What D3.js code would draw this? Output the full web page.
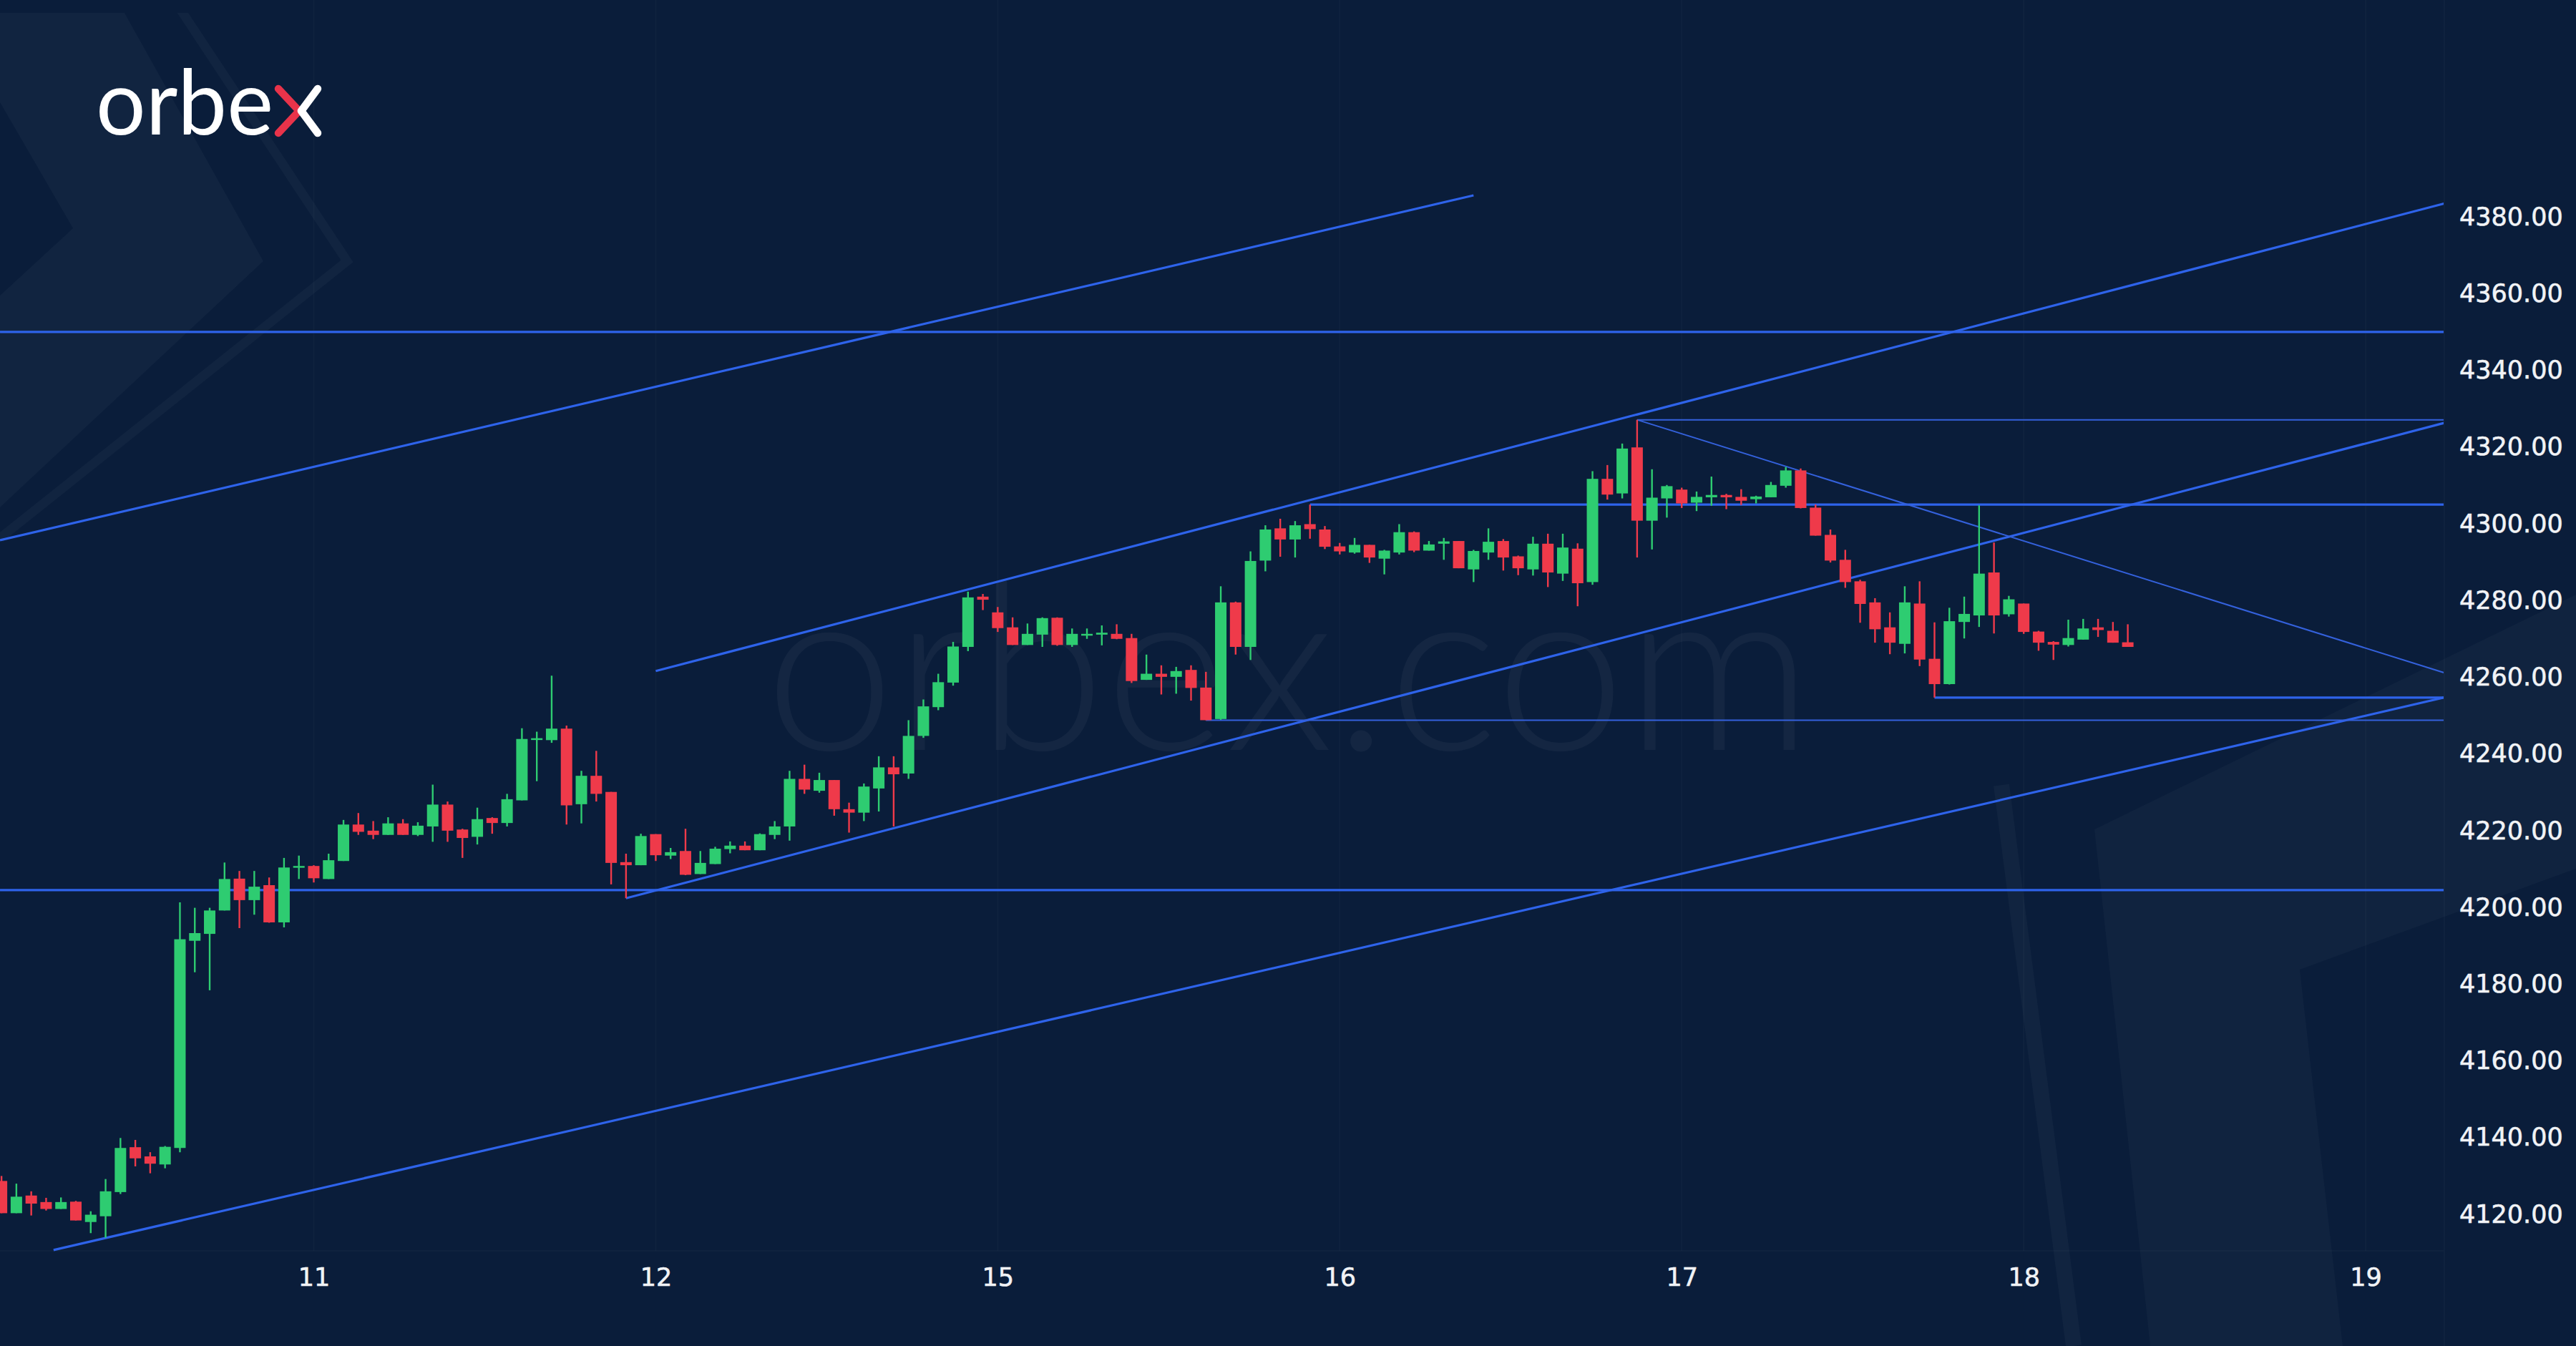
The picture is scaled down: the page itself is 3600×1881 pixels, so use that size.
<!DOCTYPE html>
<html><head><meta charset="utf-8">
<script src="https://cdn.jsdelivr.net/npm/d3@7"></script>
<style>html,body{margin:0;padding:0;background:#0a1d3a;overflow:hidden}</style>
</head><body><svg id="c" width="3600" height="1881"></svg>
<script>
// ---- data (hourly candles, index 0..143) ----
const opens = [4128.7,4120.3,4124.9,4123.2,4121.4,4123.3,4118.0,4119.5,4125.8,4137.5,4135.1,4133.0,4137.3,4191.3,4193.1,4199.2,4207.5,4201.9,4205.8,4196.1,
4210.4,4210.8,4207.4,4212.1,4221.6,4220.0,4218.9,4221.9,4218.9,4221.1,4226.8,4220.3,4218.4,4223.3,4222.0,4227.9,4243.9,4243.6,4246.6,4226.9,
4234.3,4230.1,4211.8,4211.0,4219.1,4213.5,4214.7,4208.7,4211.3,4215.2,4216.1,4214.9,4218.9,4221.1,4233.5,4230.4,4233.2,4225.6,4224.7,4231.0,
4236.5,4234.9,4244.7,4252.2,4258.6,4267.9,4281.0,4276.9,4273.0,4268.4,4271.1,4275.5,4268.4,4271.0,4271.1,4271.3,4270.2,4259.3,4260.9,4260.1,
4261.9,4257.3,4249.1,4279.5,4267.9,4290.4,4298.8,4295.9,4299.9,4298.5,4294.1,4292.5,4294.5,4290.9,4292.5,4297.8,4293.0,4294.8,4295.5,4288.1,
4292.5,4295.5,4291.5,4288.1,4294.8,4287.0,4293.5,4284.8,4311.7,4307.9,4319.9,4300.8,4306.6,4308.9,4305.5,4306.9,4307.5,4307.0,4306.4,4306.9,
4309.9,4313.9,4304.2,4297.1,4290.6,4285.0,4279.5,4273.0,4268.7,4279.2,4264.8,4258.2,4274.4,4276.1,4287.3,4276.4,4279.2,4271.9,4269.2,4268.4,
4269.8,4273.0,4272.1,4269.1];
const highs = [4130.0,4128.0,4126.0,4124.3,4124.4,4123.5,4120.8,4129.2,4139.9,4139.4,4136.2,4137.8,4201.3,4199.9,4199.9,4211.7,4209.5,4209.5,4207.8,4212.9,
4213.5,4211.0,4214.0,4222.8,4224.6,4222.5,4223.5,4223.0,4222.2,4232.0,4227.6,4220.5,4226.0,4223.5,4229.6,4246.7,4245.8,4260.4,4247.4,4235.6,
4240.8,4230.1,4214.0,4219.2,4219.1,4215.5,4220.5,4214.7,4215.8,4217.2,4217.2,4219.3,4222.5,4235.6,4237.2,4235.1,4233.2,4227.3,4232.3,4239.4,
4239.4,4248.8,4254.2,4260.9,4269.2,4282.3,4281.7,4278.3,4275.6,4274.0,4275.6,4275.6,4272.7,4272.7,4273.5,4273.8,4271.3,4265.9,4263.1,4262.7,
4263.1,4261.4,4283.7,4279.7,4292.8,4299.6,4301.3,4300.7,4305.0,4299.4,4295.0,4296.3,4294.5,4293.2,4299.9,4298.0,4295.5,4296.3,4295.5,4293.2,
4298.8,4296.0,4291.7,4296.6,4297.4,4297.4,4294.9,4313.7,4315.3,4320.9,4327.1,4314.2,4310.1,4309.4,4308.4,4312.3,4307.8,4309.0,4307.3,4310.9,
4314.8,4314.4,4305.0,4298.5,4293.2,4285.4,4280.6,4276.9,4283.7,4285.0,4274.3,4278.1,4281.0,4304.8,4295.1,4281.2,4279.2,4272.1,4269.4,4275.0,
4275.2,4275.2,4274.4,4273.8];
const lows = [4120.3,4120.3,4119.7,4121.0,4121.4,4118.4,4115.1,4113.9,4125.3,4132.5,4130.7,4132.0,4136.2,4183.1,4178.4,4199.2,4194.6,4198.1,4196.0,4194.8,
4207.4,4206.5,4207.4,4212.1,4218.9,4217.8,4218.9,4218.9,4218.6,4217.1,4217.1,4212.9,4216.4,4219.2,4221.1,4227.9,4232.9,4242.9,4221.6,4221.9,
4227.6,4206.0,4202.4,4211.0,4212.1,4212.6,4208.4,4208.7,4211.3,4214.1,4214.9,4214.9,4217.8,4217.4,4229.6,4229.9,4223.9,4219.5,4222.5,4225.0,
4221.1,4233.5,4244.2,4251.4,4257.8,4266.8,4277.5,4271.8,4268.4,4268.4,4267.9,4268.2,4267.9,4270.0,4268.3,4269.9,4258.5,4259.3,4255.5,4255.7,
4253.9,4248.8,4248.9,4265.9,4264.5,4287.6,4291.4,4291.2,4296.1,4293.4,4292.0,4292.2,4289.8,4286.8,4292.0,4292.6,4293.0,4290.6,4288.4,4284.8,
4290.6,4287.8,4286.6,4286.5,4283.5,4285.1,4278.5,4284.1,4306.3,4306.6,4291.2,4293.3,4301.6,4304.1,4303.3,4304.7,4303.8,4304.9,4305.3,4306.9,
4309.4,4304.0,4296.9,4289.9,4283.3,4274.2,4269.0,4266.0,4266.2,4262.9,4254.7,4258.1,4270.1,4273.1,4271.4,4275.8,4271.3,4266.9,4264.5,4268.0,
4269.8,4270.5,4269.0,4267.9];
const closes = [4120.3,4124.6,4122.8,4121.4,4123.2,4118.4,4119.9,4126.0,4137.3,4134.6,4133.2,4137.6,4191.7,4193.3,4199.2,4207.4,4201.9,4205.4,4196.1,4210.4,
4210.8,4207.6,4212.3,4221.6,4219.7,4218.9,4221.9,4218.9,4221.3,4226.8,4220.0,4218.1,4223.0,4222.0,4228.2,4243.9,4244.1,4246.6,4226.6,4234.3,
4229.6,4211.6,4211.0,4218.6,4213.6,4214.4,4208.5,4211.6,4215.3,4216.1,4214.9,4219.1,4221.1,4233.5,4230.7,4233.2,4225.6,4224.7,4231.5,4236.5,
4234.7,4244.7,4252.4,4258.7,4268.0,4280.8,4280.2,4272.8,4268.4,4271.3,4275.4,4268.4,4271.3,4271.3,4271.6,4270.0,4259.0,4260.9,4260.1,4261.6,
4257.2,4248.8,4279.5,4267.9,4290.3,4298.5,4295.9,4299.6,4298.6,4294.0,4292.8,4294.5,4291.2,4293.0,4297.8,4293.0,4294.6,4295.4,4288.4,4292.9,
4295.3,4291.2,4288.4,4294.8,4287.3,4293.8,4284.5,4311.7,4307.6,4319.6,4300.8,4306.8,4309.8,4305.3,4307.0,4307.5,4306.9,4306.0,4307.1,4310.1,
4313.9,4304.1,4296.9,4290.4,4284.8,4279.1,4272.5,4269.0,4279.5,4264.6,4258.2,4274.6,4276.5,4287.0,4276.1,4280.3,4271.8,4269.0,4268.5,4270.2,
4272.7,4272.3,4269.0,4267.9];
const dayLabels = ["11","12","15","16","17","18","19"];
const dayIndex = [21,44,67,90,113,136,159];
const yTicks = [4120,4140,4160,4180,4200,4220,4240,4260,4280,4300,4320,4340,4360,4380];
// drawn trend lines: [startIndex, startPrice, endIndex, endPrice]
const mainLines = [[-0.1,4295.7,99.0,4385.6],[-0.1,4350.0,164.5,4350.0],[44,4261.6,164.5,4383.7],[42,4202.4,164.5,4326.5],
  [3.5,4110.7,164.5,4254.9],[-0.1,4204.5,164.5,4204.5],[88,4305.0,164.5,4305.0],[130,4254.7,164.5,4254.7]];
const fineLines = [[110,4327.1,164.5,4327.1],[110,4327.1,164.5,4260.9],[81,4248.8,164.5,4248.8]];

// ---- drawing ----
const W=3600,H=1881, plotRight=3415;
const svg=d3.select('#c');
const x=d3.scaleLinear().domain([0,159]).range([2.1,3306.1]);
const y=d3.scaleLinear().domain([4120,4380]).range([1697,303]);

svg.append('rect').attr('width',W).attr('height',H).attr('fill','#0a1d3a');
const defs=svg.append('defs');
defs.append('clipPath').attr('id','plot').append('rect').attr('x',0).attr('y',0).attr('width',plotRight).attr('height',H);
defs.append('clipPath').attr('id','bgclip').append('rect').attr('x',0).attr('y',18).attr('width',W).attr('height',H);

// background decoration
const bg=svg.append('g').attr('clip-path','url(#bgclip)');
bg.append('path').attr('d','M0,18L174,18L368,365L0,709L0,413L102,319L0,143Z').attr('fill','rgba(255,255,255,0.03)');
bg.append('path').attr('d','M250,10L485,365L0,752').attr('fill','none').attr('stroke','rgba(255,255,255,0.03)').attr('stroke-width',13);
bg.append('path').attr('d','M2797,1097L2898,1881').attr('fill','none').attr('stroke','rgba(255,255,255,0.03)').attr('stroke-width',22);
bg.append('path').attr('d','M2927,1159L3600,831L3600,1214L3214,1355L3274,1881L3005,1881Z').attr('fill','rgba(255,255,255,0.028)');

// watermark
svg.append('text').attr('x',1069).attr('y',1048).attr('textLength',1464).attr('lengthAdjust','spacingAndGlyphs')
  .attr('font-family','Lato').attr('font-weight',300).attr('font-size',325).attr('fill','rgba(255,255,255,0.045)').text('orbex.com');

// faint frame / grid
const grid=svg.append('g').attr('stroke','rgba(255,255,255,0.025)').attr('stroke-width',2);
grid.selectAll('line.v').data(dayIndex).join('line').attr('x1',d=>x(d)).attr('x2',d=>x(d)).attr('y1',0).attr('y2',1748);
grid.append('line').attr('x1',plotRight+1).attr('x2',plotRight+1).attr('y1',0).attr('y2',H);
grid.append('line').attr('x1',0).attr('x2',plotRight).attr('y1',1748).attr('y2',1748);

// trend lines
const lg=svg.append('g').attr('clip-path','url(#plot)').attr('fill','none');
lg.selectAll('line.m').data(mainLines).join('line')
  .attr('x1',d=>x(d[0])).attr('y1',d=>y(d[1])).attr('x2',d=>x(d[2])).attr('y2',d=>y(d[3]))
  .attr('stroke','#2e63ea').attr('stroke-width',3.2);
lg.selectAll('line.f').data(fineLines).join('line')
  .attr('x1',d=>x(d[0])).attr('y1',d=>y(d[1])).attr('x2',d=>x(d[2])).attr('y2',d=>y(d[3]))
  .attr('stroke','#3461dc').attr('stroke-width',2);

// candles
const candles=d3.range(opens.length).map(i=>({i,o:opens[i],h:highs[i],l:lows[i],c:closes[i]}));
const col=d=>d.c>=d.o?'#2ecc71':'#ef3a4a';
const cg=svg.append('g');
cg.selectAll('line').data(candles).join('line')
  .attr('x1',d=>x(d.i)).attr('x2',d=>x(d.i)).attr('y1',d=>y(d.h)).attr('y2',d=>y(d.l))
  .attr('stroke',col).attr('stroke-width',2.4);
cg.selectAll('rect').data(candles).join('rect')
  .attr('x',d=>x(d.i)-8).attr('width',16)
  .attr('y',d=>y(Math.max(d.o,d.c)))
  .attr('height',d=>Math.max(2.5,Math.abs(y(d.o)-y(d.c))))
  .attr('fill',col);

// axes
const yAxis=svg.append('g').attr('transform',`translate(${plotRight},0)`)
  .call(d3.axisRight(y).tickValues(yTicks).tickFormat(d3.format('.2f')).tickSize(0).tickPadding(22));
const xAxis=svg.append('g').attr('transform','translate(0,1748)')
  .call(d3.axisBottom(x).tickValues(dayIndex).tickFormat((d,i)=>dayLabels[i]).tickSize(0).tickPadding(24));
[yAxis,xAxis].forEach(a=>{
  a.select('.domain').remove();
  a.selectAll('text').attr('font-family','DejaVu Sans').attr('font-size',35).attr('fill','#f1f3f6')
    .attr('stroke','#f1f3f6').attr('stroke-width',0.6);
});

// logo
const logo=svg.append('g');
logo.append('text').attr('x',134).attr('y',188).attr('textLength',248).attr('lengthAdjust','spacingAndGlyphs')
  .attr('font-family','Lato').attr('font-weight',400).attr('font-size',126).attr('fill','#ffffff').text('orbe');
logo.append('path').attr('d','M389,124L418,155L389,186').attr('fill','none').attr('stroke','#e8334a')
  .attr('stroke-width',10.5).attr('stroke-linecap','round').attr('stroke-linejoin','round');
logo.append('path').attr('d','M444,124L421,155L444,186').attr('fill','none').attr('stroke','#ffffff')
  .attr('stroke-width',10.5).attr('stroke-linecap','round').attr('stroke-linejoin','round');
</script>
</body></html>
